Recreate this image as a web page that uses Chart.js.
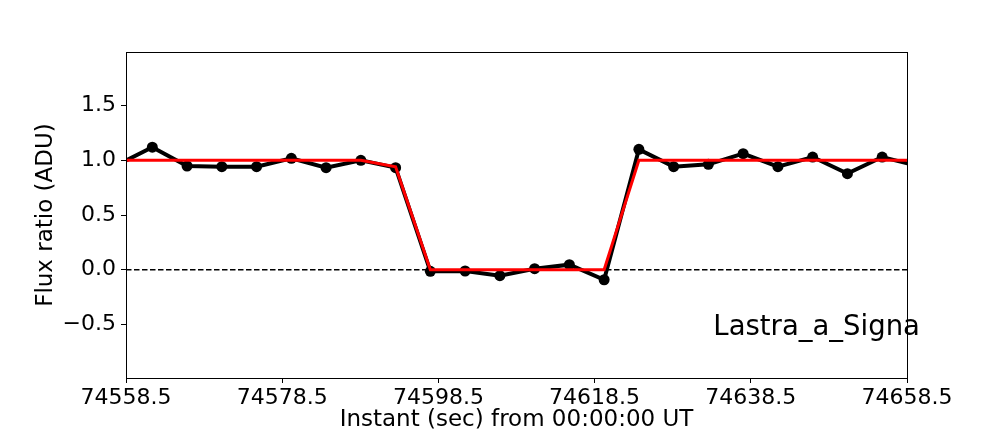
<!DOCTYPE html>
<html>
<head>
<meta charset="utf-8">
<script src="https://cdn.jsdelivr.net/npm/chart.js@4"></script>
<style>
  html, body { margin: 0; padding: 0; background: #fff; }
  canvas { display: block; }
</style>
</head>
<body>
<canvas id="fluxChart" width="1008" height="432"></canvas>
<script>
// instants (sec from 00:00:00 UT)
const instants = [74557.42, 74561.87, 74566.32, 74570.77, 74575.22, 74579.67, 74584.12, 74588.57,
  74593.02, 74597.47, 74601.92, 74606.37, 74610.82, 74615.27, 74619.72, 74624.17, 74628.62,
  74633.07, 74637.52, 74641.97, 74646.42, 74650.87, 74655.32, 74659.77];
const observed = [0.96, 1.12, 0.948, 0.942, 0.942, 1.018, 0.933, 1.0, 0.933, -0.015, -0.012, -0.055,
  0.009, 0.046, -0.092, 1.10, 0.942, 0.963, 1.061, 0.942, 1.03, 0.878, 1.03, 0.95];
const model = [1.0, 1.0, 1.0, 1.0, 1.0, 1.0, 1.0, 1.0, 0.94, 0.0, 0.0, 0.0,
  0.0, 0.0, 0.0, 1.0, 1.0, 1.0, 1.0, 1.0, 1.0, 1.0, 1.0, 1.0];
const xTicks = [74558.5, 74578.5, 74598.5, 74618.5, 74638.5, 74658.5];
const yTicks = [-0.5, 0.0, 0.5, 1.0, 1.5];
const xRange = [74558.5, 74658.5];
const yRange = [-0.99, 1.99];
const siteLabel = 'Lastra_a_Signa';
const labelAt = [74633.7, -0.6];

const FONT = 'DejaVu Sans';

const toPoints = ys => instants.map((t, i) => ({ x: t, y: ys[i] }));

// black frame around the plot + site name
const framePlugin = {
  id: 'frame',
  afterDatasetsDraw(chart) {
    const { ctx, chartArea: a, scales } = chart;
    ctx.save();
    ctx.strokeStyle = '#000';
    ctx.lineWidth = 1;
    ctx.strokeRect(a.left + 0.5, a.top + 0.5, a.right - a.left, a.bottom - a.top);
    ctx.fillStyle = '#000';
    ctx.font = `27.5px "${FONT}"`;
    ctx.textBaseline = 'alphabetic';
    ctx.textAlign = 'left';
    ctx.fillText(siteLabel, scales.x.getPixelForValue(labelAt[0]), scales.y.getPixelForValue(labelAt[1]));
    ctx.restore();
  }
};

new Chart(document.getElementById('fluxChart'), {
  type: 'line',
  data: {
    datasets: [
      {
        data: toPoints(model),
        borderColor: '#ff0000',
        borderWidth: 3,
        pointRadius: 0,
        tension: 0,
        clip: 0
      },
      {
        data: toPoints(observed),
        borderColor: '#000',
        backgroundColor: '#000',
        borderWidth: 4,
        pointRadius: 5.5,
        pointBorderWidth: 0,
        tension: 0,
        clip: 0
      },
      {
        data: [{ x: xRange[0], y: 0 }, { x: xRange[1], y: 0 }],
        borderColor: '#000',
        borderWidth: 1.5,
        borderDash: [5.5, 2.5],
        pointRadius: 0,
        clip: 0
      }
    ]
  },
  options: {
    responsive: false,
    animation: false,
    layout: { padding: { left: 0, right: 101, top: 52, bottom: 0 } },
    plugins: {
      legend: { display: false },
      tooltip: { enabled: false }
    },
    scales: {
      x: {
        type: 'linear',
        min: xRange[0],
        max: xRange[1],
        afterFit: s => { s.height = 54; },
        afterBuildTicks: s => { s.ticks = xTicks.map(v => ({ value: v })); },
        grid: { drawOnChartArea: false, tickLength: 5, tickColor: '#000' },
        border: { color: '#000' },
        ticks: {
          color: '#000',
          font: { family: FONT, size: 22 },
          padding: 2,
          maxRotation: 0,
          autoSkip: false,
          callback: v => v.toFixed(1)
        },
        title: {
          display: true,
          text: 'Instant (sec) from 00:00:00 UT',
          color: '#000',
          font: { family: FONT, size: 23, lineHeight: 1 },
          padding: { top: 0, bottom: 0 }
        }
      },
      y: {
        min: yRange[0],
        max: yRange[1],
        afterFit: s => { s.width = 126; },
        afterBuildTicks: s => { s.ticks = yTicks.map(v => ({ value: v })); },
        grid: { drawOnChartArea: false, tickLength: 5, tickColor: '#000' },
        border: { color: '#000' },
        ticks: {
          color: '#000',
          font: { family: FONT, size: 22 },
          padding: 5,
          callback: v => v.toFixed(1).replace('-', '\u2212')
        },
        title: {
          display: true,
          text: 'Flux ratio (ADU)',
          color: '#000',
          font: { family: FONT, size: 23, lineHeight: 1 },
          padding: { top: 34.5, bottom: 0 }
        }
      }
    }
  },
  plugins: [framePlugin]
});
</script>
</body>
</html>
